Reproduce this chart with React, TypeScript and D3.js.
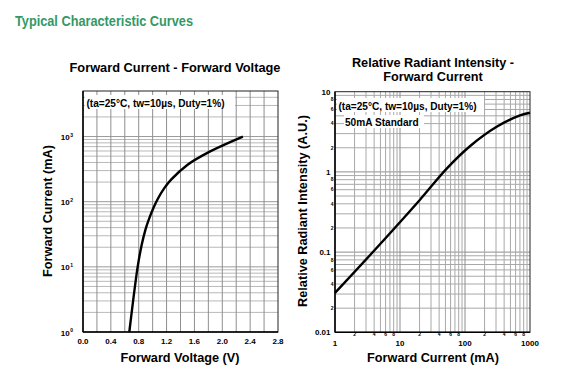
import React from 'react';
import * as d3 from 'd3';

// ---------- Data: Forward Current vs Forward Voltage ----------
const fvXTicks = [0, 0.4, 0.8, 1.2, 1.6, 2.0, 2.4, 2.8];
const fvXGrid = [0.2, 0.4, 0.6, 0.8, 1.0, 1.2, 1.4, 1.6, 1.8, 2.0, 2.2, 2.4, 2.6];
const fvYDecades = [1, 10, 100, 1000];
const fvYExp = ['0', '1', '2', '3'];
const fvVoltage = [0.665, 0.785, 0.843, 0.896, 0.943, 1.011, 1.073, 1.165, 1.265, 1.502, 1.827, 2.296];
const fvCurrent = [1, 10, 21.8, 37, 52.6, 80, 110, 160, 218, 370, 593, 1000];

// ---------- Data: Relative Radiant Intensity vs Forward Current ----------
const riXMajor = [1, 10, 100, 1000];
const riXMajorLabels = ['1', '10', '100', '1000'];
const riXMinor = [2, 4, 6, 8, 20, 40, 60, 80, 200, 400, 600, 800];
const riXMinorLabels = ['2', '4', '6', '8', '2', '4', '6', '8', '2', '4', '6', '8'];
const riYMajor = [0.01, 0.1, 1, 10];
const riYMajorLabels = ['0.01', '0.1', '1', '10'];
const riYMinor = [0.02, 0.04, 0.06, 0.08, 0.2, 0.4, 0.6, 0.8, 2, 4, 6, 8];
const riYMinorLabels = ['2', '4', '6', '8', '2', '4', '6', '8', '2', '4', '6', '8'];
const riCurrent = [1, 4.12, 20.3, 52.3, 119, 307, 702, 1000];
const riIntensity = [0.031, 0.107, 0.45, 1.1, 2.09, 3.65, 5.06, 5.47];

const mult = [2, 3, 4, 5, 6, 7, 8, 9];
const FONT = 'Liberation Sans, Arial, Helvetica, sans-serif';

function logGrid(decades: number[], max: number) {
  const out: number[] = [];
  decades.forEach((d) => {
    mult.forEach((m) => {
      const v = d * m;
      if (v < max - 1e-9) out.push(v);
    });
  });
  return out;
}

function LeftChart() {
  const x = d3.scaleLinear().domain([0, 2.8]).range([83, 278]);
  const y = d3.scaleLog().domain([1, 5000]).range([332, 91]);
  const minorY = logGrid(fvYDecades, 5000);
  const pts: [number, number][] = fvVoltage.map((v, i) => [x(v), y(fvCurrent[i])]);
  const line = d3.line().curve(d3.curveCatmullRom.alpha(0.5))(pts) || '';
  const [x0, x1] = x.range();
  const [y0, y1] = y.range();
  return (
    <g>
      <text x={175} y={72} textAnchor="middle" fontFamily={FONT} fontWeight="bold" fontSize={12.8} fill="#000">
        Forward Current - Forward Voltage
      </text>
      {minorY.map((v, i) => (
        <line key={'hy' + i} x1={x0} x2={x1} y1={y(v)} y2={y(v)} stroke="#b8b8b8" strokeWidth={1} />
      ))}
      {fvYDecades.slice(1).map((v, i) => (
        <line key={'hd' + i} x1={x0} x2={x1} y1={y(v)} y2={y(v)} stroke="#9a9a9a" strokeWidth={1} />
      ))}
      {fvXGrid.map((v, i) => (
        <line key={'vx' + i} x1={x(v)} x2={x(v)} y1={y0} y2={y1} stroke="#8e8e8e" strokeWidth={1} />
      ))}
      <rect x={x0} y={y1} width={x1 - x0} height={y0 - y1} fill="none" stroke="#222" strokeWidth={1} />
      <line x1={x0} x2={x0} y1={y1} y2={y0} stroke="#000" strokeWidth={1.5} />
      <line x1={x0} x2={x1} y1={y0} y2={y0} stroke="#000" strokeWidth={1.5} />
      <rect x={85} y={95} width={150} height={14} fill="#fff" />
      <text x={86.5} y={107} fontFamily={FONT} fontWeight="bold" fontSize={10.1} fill="#000">
        (ta=25°C, tw=10µs, Duty=1%)
      </text>
      <path d={line} fill="none" stroke="#000" strokeWidth={2.4} />
      {fvXTicks.map((v, i) => (
        <text key={'xt' + i} x={x(v)} y={343.5} textAnchor="middle" fontFamily={FONT} fontWeight="bold" fontSize={8} fill="#000">
          {v.toFixed(1)}
        </text>
      ))}
      {fvYDecades.map((v, i) => (
        <text key={'yt' + i} x={73} y={y(v) + 3.5} textAnchor="end" fontFamily={FONT} fontWeight="bold" fontSize={8} fill="#000">
          10
          <tspan fontSize={5} dy={-3.5} dx={0.5}>{fvYExp[i]}</tspan>
        </text>
      ))}
      <text x={180} y={361.7} textAnchor="middle" fontFamily={FONT} fontWeight="bold" fontSize={12.7} fill="#000">
        Forward Voltage (V)
      </text>
      <text transform={`translate(51.8,211) rotate(-90)`} textAnchor="middle" fontFamily={FONT} fontWeight="bold" fontSize={12.7} fill="#000">
        Forward Current (mA)
      </text>
    </g>
  );
}

function RightChart() {
  const x = d3.scaleLog().domain([1, 1000]).range([335, 530]);
  const y = d3.scaleLog().domain([0.01, 10]).range([332.3, 91.7]);
  const minorX = logGrid([1, 10, 100], 1000);
  const minorY = logGrid([0.01, 0.1, 1], 10);
  const pts: [number, number][] = riCurrent.map((c, i) => [x(c), y(riIntensity[i])]);
  const line = d3.line().curve(d3.curveCatmullRom.alpha(0.5))(pts) || '';
  const [x0, x1] = x.range();
  const [y0, y1] = y.range();
  return (
    <g>
      <text x={433} y={66.7} textAnchor="middle" fontFamily={FONT} fontWeight="bold" fontSize={12.7} fill="#000">
        Relative Radiant Intensity -
      </text>
      <text x={433} y={81} textAnchor="middle" fontFamily={FONT} fontWeight="bold" fontSize={12.7} fill="#000">
        Forward Current
      </text>
      {minorY.map((v, i) => (
        <line key={'hy' + i} x1={x0} x2={x1} y1={y(v)} y2={y(v)} stroke="#a8a8a8" strokeWidth={1} />
      ))}
      {[0.1, 1].map((v, i) => (
        <line key={'hd' + i} x1={x0} x2={x1} y1={y(v)} y2={y(v)} stroke="#8e8e8e" strokeWidth={1} />
      ))}
      {minorX.map((v, i) => (
        <line key={'vx' + i} x1={x(v)} x2={x(v)} y1={y0} y2={y1} stroke="#a8a8a8" strokeWidth={1} />
      ))}
      {[10, 100].map((v, i) => (
        <line key={'vd' + i} x1={x(v)} x2={x(v)} y1={y0} y2={y1} stroke="#8e8e8e" strokeWidth={1} />
      ))}
      <rect x={x0} y={y1} width={x1 - x0} height={y0 - y1} fill="none" stroke="#222" strokeWidth={1} />
      <line x1={x0} x2={x0} y1={y1} y2={y0} stroke="#000" strokeWidth={1.5} />
      <line x1={x0} x2={x1} y1={y0} y2={y0} stroke="#000" strokeWidth={1.5} />
      <rect x={337} y={98} width={147} height={14} fill="#fff" />
      <text x={338.5} y={110} fontFamily={FONT} fontWeight="bold" fontSize={10.1} fill="#000">
        (ta=25°C, tw=10µs, Duty=1%)
      </text>
      <rect x={344} y={115} width={80} height={13} fill="#fff" />
      <text x={345} y={126} fontFamily={FONT} fontWeight="bold" fontSize={10.1} fill="#000">
        50mA Standard
      </text>
      <path d={line} fill="none" stroke="#000" strokeWidth={2.4} />
      {riXMajor.map((v, i) => (
        <text key={'xm' + i} x={x(v)} y={346} textAnchor="middle" fontFamily={FONT} fontWeight="bold" fontSize={8} fill="#000">
          {riXMajorLabels[i]}
        </text>
      ))}
      {riXMinor.map((v, i) => (
        <text key={'xn' + i} x={x(v)} y={336.3} textAnchor="middle" fontFamily={FONT} fontWeight="bold" fontSize={5} fill="#000">
          {riXMinorLabels[i]}
        </text>
      ))}
      {riYMajor.map((v, i) => (
        <text key={'ym' + i} x={330.5} y={y(v) + 2.8} textAnchor="end" fontFamily={FONT} fontWeight="bold" fontSize={8} fill="#000">
          {riYMajorLabels[i]}
        </text>
      ))}
      {riYMinor.map((v, i) => (
        <text key={'yn' + i} x={333.5} y={y(v) + 1.8} textAnchor="end" fontFamily={FONT} fontWeight="bold" fontSize={5} fill="#000">
          {riYMinorLabels[i]}
        </text>
      ))}
      <text x={433} y={361.7} textAnchor="middle" fontFamily={FONT} fontWeight="bold" fontSize={12.7} fill="#000">
        Forward Current (mA)
      </text>
      <text transform={`translate(307.4,211) rotate(-90)`} textAnchor="middle" fontFamily={FONT} fontWeight="bold" fontSize={12.7} fill="#000">
        Relative Radiant Intensity (A.U.)
      </text>
    </g>
  );
}

export default function App() {
  return (
    <svg width={581} height={380} viewBox="0 0 581 380" style={{ position: 'absolute', left: 0, top: 0, background: '#fff' }}>
      <rect x={0} y={0} width={581} height={380} fill="#fff" />
      <text x={15} y={26} fontFamily={FONT} fontWeight="bold" fontSize={14} fill="#339966" textLength={178} lengthAdjust="spacingAndGlyphs">
        Typical Characteristic Curves
      </text>
      <LeftChart />
      <RightChart />
    </svg>
  );
}
